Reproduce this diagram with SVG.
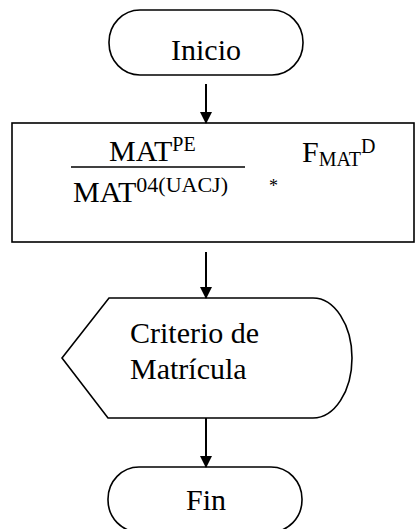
<svg xmlns="http://www.w3.org/2000/svg" width="416" height="529" viewBox="0 0 416 529">
<style>
.s{fill:#fff;stroke:#000;stroke-width:1.6}
text{font-family:'Liberation Serif','Times New Roman',serif;fill:#000}
.c{stroke:#000;stroke-width:2;fill:none}
</style>
<defs>
<marker id="ah" markerWidth="12" markerHeight="14" refX="11" refY="6" orient="auto" markerUnits="userSpaceOnUse" viewBox="0 0 12 12">
<path d="M0,0 L12,6 L0,12 Z" fill="#000"/>
</marker>
</defs>
<rect width="416" height="529" fill="#fff"/>
<g id="inicio">
<rect class="s" x="109" y="10" width="194" height="65" rx="31" ry="32"/>
<text x="206" y="60" font-size="30" text-anchor="middle">Inicio</text>
</g>
<g id="proceso">
<rect class="s" x="12" y="123" width="402" height="119"/>
<text x="109" y="161" font-size="30">MAT<tspan font-size="20" dy="-10">PE</tspan></text>
<line x1="71" y1="167" x2="245" y2="167" stroke="#000" stroke-width="1.5"/>
<text x="73" y="202" font-size="30">MAT<tspan font-size="22" dy="-10">04(UACJ)</tspan></text>
<text x="269" y="192" font-size="18">*</text>
<text x="302" y="162" font-size="30">F<tspan font-size="20" dy="4">MAT</tspan><tspan font-size="20" dy="-13">D</tspan></text>
</g>
<g id="criterio">
<path class="s" d="M62,358 L109,298 L313,298 A39,60 0 0 1 313,418 L108,418 Z"/>
<text x="130" y="343" font-size="30">Criterio de</text>
<text x="130" y="379" font-size="30">Matrícula</text>
</g>
<g id="fin">
<rect class="s" x="108" y="467" width="194" height="65" rx="31" ry="32"/>
<text x="206" y="510" font-size="30" text-anchor="middle">Fin</text>
</g>
<g id="connectors">
<line class="c" x1="206" y1="84" x2="206" y2="123" marker-end="url(#ah)"/>
<line class="c" x1="206" y1="252" x2="206" y2="298" marker-end="url(#ah)"/>
<line class="c" x1="206" y1="418" x2="206" y2="467" marker-end="url(#ah)"/>
</g>
</svg>
